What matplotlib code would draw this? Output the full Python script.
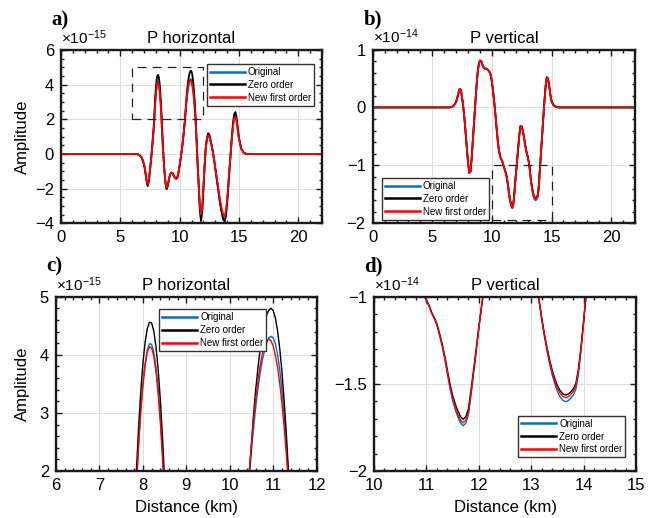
import matplotlib
matplotlib.use("Agg")
import matplotlib.pyplot as plt
from matplotlib.ticker import MultipleLocator, FuncFormatter

plt.rcParams['font.family'] = ['Liberation Sans', 'DejaVu Sans']
plt.rcParams['mathtext.fontset'] = 'custom'
plt.rcParams['mathtext.rm'] = 'Liberation Sans'
plt.rcParams['mathtext.it'] = 'Liberation Sans:italic'

# ---------------- P horizontal (amplitude in units of 1e-15) ----------------
dist_h = [0.0, 6.0, 6.2, 6.4, 6.6, 6.8, 7.0, 7.1, 7.2, 7.3, 7.4, 7.5, 7.6, 7.7, 7.75, 7.8,
          7.85, 7.9, 7.95, 8.0, 8.05, 8.1, 8.15, 8.2, 8.25, 8.3, 8.35, 8.4, 8.45, 8.5,
          8.55, 8.6, 8.7, 8.8, 8.9, 9.0, 9.1, 9.2, 9.3, 9.4, 9.5, 9.6, 9.7, 9.8, 9.9, 10.0,
          10.1, 10.2, 10.3, 10.35, 10.4,
          10.45, 10.5, 10.55, 10.6, 10.65, 10.7, 10.75, 10.8, 10.85, 10.9, 10.95,
          11.0, 11.05, 11.1, 11.15, 11.2, 11.25, 11.3, 11.35, 11.4, 11.45,
          11.5, 11.6, 11.7, 11.8, 11.9, 12.0, 12.1, 12.2, 12.3, 12.4, 12.5, 12.6, 12.7, 12.8,
          12.9, 13.0, 13.1, 13.2, 13.3, 13.4, 13.5, 13.6, 13.7, 13.8, 13.9, 14.0, 14.1, 14.2,
          14.3, 14.4, 14.5, 14.6, 14.7, 14.8, 14.9, 15.0,
          15.2, 15.4, 15.6, 15.8, 16.0, 22.0]

h_original = [0, 0, 0, -0.01, -0.05, -0.2, -0.6, -1.0, -1.48, -1.8, -1.57, -0.95, -0.27, 0.5, 0.9, 1.3,
              1.74, 2.45, 3.04, 3.51, 3.85, 4.08, 4.19, 4.18, 4.05, 3.79, 3.42, 2.93, 2.32, 1.59,
              0.9, 0.25, -0.85, -1.65, -2.0, -1.83, -1.45, -1.18, -1.08, -1.1, -1.25, -1.37, -1.43, -1.38, -1.1, -0.67,
              -0.22, 0.27, 0.9, 1.22, 1.55,
              1.91, 2.36, 2.76, 3.12, 3.43, 3.69, 3.91, 4.08, 4.21, 4.29, 4.32,
              4.29, 4.19, 4.00, 3.74, 3.39, 2.97, 2.46, 1.87, 1.2, 0.45,
              -0.35, -1.75, -3.15, -3.88, -3.3, -2.1, -0.8, 0.3, 0.88, 1.1, 1.03, 0.78, 0.45, 0.1,
              -0.33, -0.82, -1.32, -1.82, -2.32, -2.82, -3.22, -3.57, -3.82, -3.9, -3.55, -2.85, -1.92, -0.95,
              -0.05, 0.88, 1.62, 2.08, 2.2, 1.92, 1.38, 0.88,
              0.28, 0.07, 0.01, 0, 0, 0]

h_zero = [0, 0, 0, -0.01, -0.05, -0.2, -0.6, -1.0, -1.5, -1.85, -1.6, -0.95, -0.25, 0.55, 1.0, 1.45,
          2.00, 2.74, 3.36, 3.85, 4.21, 4.45, 4.56, 4.55, 4.41, 4.15, 3.76, 3.24, 2.60, 1.84,
          1.1, 0.4, -0.8, -1.65, -2.03, -1.85, -1.45, -1.18, -1.08, -1.1, -1.25, -1.37, -1.43, -1.38, -1.1, -0.65,
          -0.2, 0.3, 0.95, 1.3, 1.65,
          2.0, 2.5, 3.01, 3.43, 3.79, 4.10, 4.35, 4.55, 4.69, 4.77, 4.80,
          4.76, 4.63, 4.41, 4.10, 3.71, 3.22, 2.66, 2.00, 1.26, 0.5,
          -0.3, -1.7, -3.1, -3.85, -3.3, -2.1, -0.75, 0.35, 0.95, 1.2, 1.12, 0.85, 0.5, 0.15,
          -0.3, -0.8, -1.3, -1.8, -2.3, -2.8, -3.2, -3.55, -3.8, -3.87, -3.55, -2.85, -1.9, -0.9,
          0.05, 1.0, 1.8, 2.3, 2.42, 2.1, 1.5, 0.95,
          0.3, 0.08, 0.01, 0, 0, 0]

h_new_first = [0, 0, 0, -0.01, -0.05, -0.2, -0.58, -0.97, -1.43, -1.75, -1.52, -0.92, -0.27, 0.5, 0.9, 1.28,
               1.72, 2.42, 3.01, 3.47, 3.81, 4.04, 4.14, 4.12, 3.98, 3.72, 3.34, 2.85, 2.24, 1.52,
               0.85, 0.2, -0.85, -1.6, -1.95, -1.8, -1.43, -1.17, -1.07, -1.09, -1.23, -1.35, -1.4, -1.35, -1.07, -0.62,
               -0.15, 0.33, 0.95, 1.28, 1.63,
               2.0, 2.48, 2.90, 3.26, 3.57, 3.82, 4.02, 4.16, 4.24, 4.27, 4.24,
               4.15, 3.99, 3.78, 3.50, 3.16, 2.76, 2.30, 1.78, 1.1, 0.35,
               -0.4, -1.7, -2.95, -3.5, -3.05, -1.95, -0.7, 0.3, 0.85, 1.07, 1.0, 0.76, 0.44, 0.1,
               -0.3, -0.77, -1.23, -1.7, -2.15, -2.6, -2.98, -3.3, -3.52, -3.57, -3.28, -2.62, -1.75, -0.85,
               0.02, 0.87, 1.6, 2.05, 2.15, 1.87, 1.35, 0.85,
               0.27, 0.07, 0.01, 0, 0, 0]

# ---------------- P vertical (amplitude in units of 1e-14) ----------------
dist_v = [0.0, 6.0, 6.4, 6.6, 6.8, 7.0, 7.1, 7.2, 7.3, 7.4, 7.5, 7.6, 7.7, 7.8, 7.9, 8.0, 8.1, 8.2,
          8.3, 8.4, 8.5, 8.6, 8.7, 8.8, 8.9, 9.0, 9.1, 9.2, 9.3, 9.4, 9.5, 9.6, 9.7, 9.8, 9.9, 10.0,
          10.1, 10.2, 10.3, 10.4, 10.5, 10.6, 10.7, 10.8, 10.9,
          10.95, 11.0, 11.05, 11.1, 11.15, 11.2, 11.25, 11.3, 11.35, 11.4, 11.45, 11.5, 11.55, 11.6,
          11.65, 11.7, 11.75, 11.8, 11.85, 11.9, 11.95, 12.0, 12.05, 12.1,
          12.2, 12.3, 12.4, 12.5, 12.6, 12.7, 12.8, 12.9, 13.0, 13.05, 13.1,
          13.15, 13.2, 13.25, 13.3, 13.35, 13.4, 13.45, 13.5, 13.55, 13.6, 13.65, 13.7, 13.75, 13.8,
          13.85, 13.9, 13.95, 14.0, 14.05,
          14.1, 14.2, 14.3, 14.4, 14.5, 14.6, 14.7, 14.8, 14.9, 15.0, 15.2, 15.4, 15.6, 16.0, 22.0]

v_original = [0, 0, 0, 0.005, 0.03, 0.1, 0.17, 0.26, 0.32, 0.30, 0.17, 0.0, -0.2, -0.45, -0.72, -0.96, -1.13, -1.11,
              -0.88, -0.57, -0.26, 0.05, 0.35, 0.6, 0.75, 0.81, 0.8, 0.74, 0.69, 0.67, 0.67, 0.66, 0.64, 0.61, 0.56, 0.44,
              0.27, 0.08, -0.14, -0.38, -0.6, -0.76, -0.85, -0.9, -0.95,
              -0.99, -1.021, -1.053, -1.095, -1.126, -1.163, -1.221, -1.284, -1.358, -1.442, -1.527, -1.595, -1.648, -1.69,
              -1.724, -1.74, -1.727, -1.679, -1.569, -1.442, -1.316, -1.184, -1.063, -0.955,
              -0.7, -0.47, -0.32, -0.33, -0.41, -0.53, -0.66, -0.77, -0.85, -0.9, -0.95,
              -1.021, -1.128, -1.224, -1.309, -1.384, -1.448, -1.501, -1.544, -1.574, -1.593, -1.602, -1.598, -1.585, -1.566,
              -1.534, -1.448, -1.309, -1.149, -0.98,
              -0.83, -0.52, -0.2, 0.1, 0.36, 0.52, 0.5, 0.38, 0.22, 0.11, 0.03, 0.01, 0, 0, 0]

v_zero = [0, 0, 0, 0.005, 0.03, 0.1, 0.17, 0.26, 0.32, 0.30, 0.17, 0.0, -0.2, -0.45, -0.72, -0.96, -1.13, -1.11,
          -0.88, -0.57, -0.26, 0.05, 0.35, 0.6, 0.75, 0.81, 0.8, 0.74, 0.69, 0.67, 0.67, 0.66, 0.64, 0.61, 0.56, 0.44,
          0.27, 0.08, -0.14, -0.38, -0.6, -0.76, -0.85, -0.9, -0.95,
          -0.99, -1.02, -1.05, -1.09, -1.12, -1.155, -1.21, -1.27, -1.34, -1.42, -1.50, -1.565, -1.615, -1.655,
          -1.688, -1.703, -1.69, -1.645, -1.54, -1.42, -1.30, -1.175, -1.06, -0.955,
          -0.7, -0.47, -0.32, -0.33, -0.41, -0.53, -0.66, -0.77, -0.85, -0.9, -0.95,
          -1.02, -1.12, -1.21, -1.29, -1.36, -1.42, -1.47, -1.51, -1.538, -1.556, -1.564, -1.56, -1.548, -1.53,
          -1.5, -1.42, -1.29, -1.14, -0.98,
          -0.83, -0.52, -0.2, 0.1, 0.36, 0.52, 0.5, 0.38, 0.22, 0.11, 0.03, 0.01, 0, 0, 0]

v_new_first = [0, 0, 0, 0.005, 0.03, 0.1, 0.17, 0.26, 0.32, 0.30, 0.17, 0.0, -0.2, -0.45, -0.72, -0.96, -1.13, -1.11,
               -0.88, -0.57, -0.26, 0.05, 0.35, 0.6, 0.75, 0.81, 0.8, 0.74, 0.69, 0.67, 0.67, 0.66, 0.64, 0.61, 0.56, 0.44,
               0.27, 0.08, -0.14, -0.38, -0.6, -0.76, -0.85, -0.9, -0.95,
               -0.99, -1.021, -1.051, -1.093, -1.123, -1.159, -1.216, -1.278, -1.35, -1.432, -1.515, -1.581, -1.633, -1.674,
               -1.708, -1.723, -1.71, -1.664, -1.556, -1.432, -1.309, -1.18, -1.062, -0.955,
               -0.7, -0.47, -0.32, -0.33, -0.41, -0.53, -0.66, -0.77, -0.85, -0.9, -0.95,
               -1.021, -1.123, -1.216, -1.298, -1.37, -1.431, -1.483, -1.524, -1.553, -1.571, -1.579, -1.575, -1.563, -1.544,
               -1.514, -1.431, -1.298, -1.144, -0.98,
               -0.83, -0.52, -0.2, 0.1, 0.36, 0.52, 0.5, 0.38, 0.22, 0.11, 0.03, 0.01, 0, 0, 0]

series_names = ['Original', 'Zero order', 'New first order']
series_colors = ['#0072BD', '#000000', '#FF0000']

W, H = 649, 518
fig = plt.figure(figsize=(W / 100, H / 100), dpi=100)


def box(l, t, r, b):
    return [l / W, 1 - b / H, (r - l) / W, (b - t) / H]


ax_a = fig.add_axes(box(61, 50, 322, 223.3))
ax_b = fig.add_axes(box(372.7, 49.5, 635, 223.3))
ax_c = fig.add_axes(box(56, 296.7, 316.7, 471))
ax_d = fig.add_axes(box(374, 296.7, 636, 471))

fmt = FuncFormatter(lambda v, p: ('%g' % v).replace('-', '\u2212'))


def style(ax, xlim, ylim, xmaj, xmin, ymaj, ymin, title, exponent, letter):
    ax.set_xlim(*xlim)
    ax.set_ylim(*ylim)
    ax.xaxis.set_major_locator(MultipleLocator(xmaj))
    ax.xaxis.set_minor_locator(MultipleLocator(xmin))
    ax.yaxis.set_major_locator(MultipleLocator(ymaj))
    ax.yaxis.set_minor_locator(MultipleLocator(ymin))
    ax.xaxis.set_major_formatter(fmt)
    ax.yaxis.set_major_formatter(fmt)
    ax.tick_params(which='both', direction='in', top=True, right=True, width=1.0, color='#1a1a1a')
    ax.tick_params(which='major', length=4, labelsize=12, pad=5)
    ax.tick_params(which='minor', length=2)
    ax.grid(True, which='major', color='#dedede', linewidth=0.8)
    ax.set_axisbelow(True)
    for s in ax.spines.values():
        s.set_linewidth(1.7)
        s.set_color('#1a1a1a')
    ax.set_title(title, fontsize=12, pad=5)
    ax.text(0.0, 1.018, r'$\times10^{%d}$' % exponent, transform=ax.transAxes,
            ha='left', va='bottom', fontsize=11)
    ax.text(-0.036, 1.115, letter, transform=ax.transAxes, ha='left', va='bottom',
            fontsize=15, fontweight='bold', family='Liberation Serif')


def draw(ax, x, ys, lw):
    for y, name, col in zip(ys, series_names, series_colors):
        ax.plot(x, y, color=col, lw=lw, label=name, solid_joinstyle='round')


def add_legend(ax, left, top):
    leg = ax.legend(loc='upper left', bbox_to_anchor=(left / W, 1 - top / H),
                    bbox_transform=fig.transFigure, fontsize=7, frameon=True, fancybox=False,
                    edgecolor='#333333', framealpha=1, borderpad=0.3, labelspacing=0.3,
                    handlelength=3.6, handletextpad=0.3, borderaxespad=0)
    leg.get_frame().set_linewidth(1.0)
    for ln in leg.get_lines():
        ln.set_linewidth(1.8)


dash = (0, (7, 5))

# a) P horizontal, full trace
draw(ax_a, dist_h, [h_original, h_zero, h_new_first], 1.3)
style(ax_a, (0, 22), (-4, 6), 5, 1, 2, 0.5, 'P horizontal', -15, 'a)')
ax_a.plot([6, 12, 12, 6, 6], [2, 2, 5, 5, 2], color='#222222', lw=0.9, linestyle=dash)
ax_a.set_ylabel('Amplitude', fontsize=12)
ax_a.yaxis.set_label_coords(-0.12, 0.5)
add_legend(ax_a, 207, 64)

# b) P vertical, full trace
draw(ax_b, dist_v, [v_original, v_zero, v_new_first], 1.3)
style(ax_b, (0, 22), (-2, 1), 5, 1, 1, 0.2, 'P vertical', -14, 'b)')
ax_b.plot([10, 15, 15, 10, 10], [-1.95, -1.95, -1, -1, -1.95], color='#222222', lw=0.9, linestyle=dash)
add_legend(ax_b, 381.7, 178)

# c) P horizontal, zoom on the two main peaks
draw(ax_c, dist_h, [h_original, h_zero, h_new_first], 1.0)
style(ax_c, (6, 12), (2, 5), 1, 0.2, 1, 0.2, 'P horizontal', -15, 'c)')
ax_c.set_ylabel('Amplitude', fontsize=12)
ax_c.yaxis.set_label_coords(-0.10, 0.5)
ax_c.set_xlabel('Distance (km)', fontsize=12)
ax_c.xaxis.set_label_coords(0.5, -0.165)
add_legend(ax_c, 159.3, 309.3)

# d) P vertical, zoom on the two deepest troughs
draw(ax_d, dist_v, [v_original, v_zero, v_new_first], 1.0)
style(ax_d, (10, 15), (-2, -1), 1, 0.2, 0.5, 0.1, 'P vertical', -14, 'd)')
ax_d.set_xlabel('Distance (km)', fontsize=12)
ax_d.xaxis.set_label_coords(0.5, -0.165)
add_legend(ax_d, 518.3, 415.7)

fig.savefig('out.png', dpi=100)
